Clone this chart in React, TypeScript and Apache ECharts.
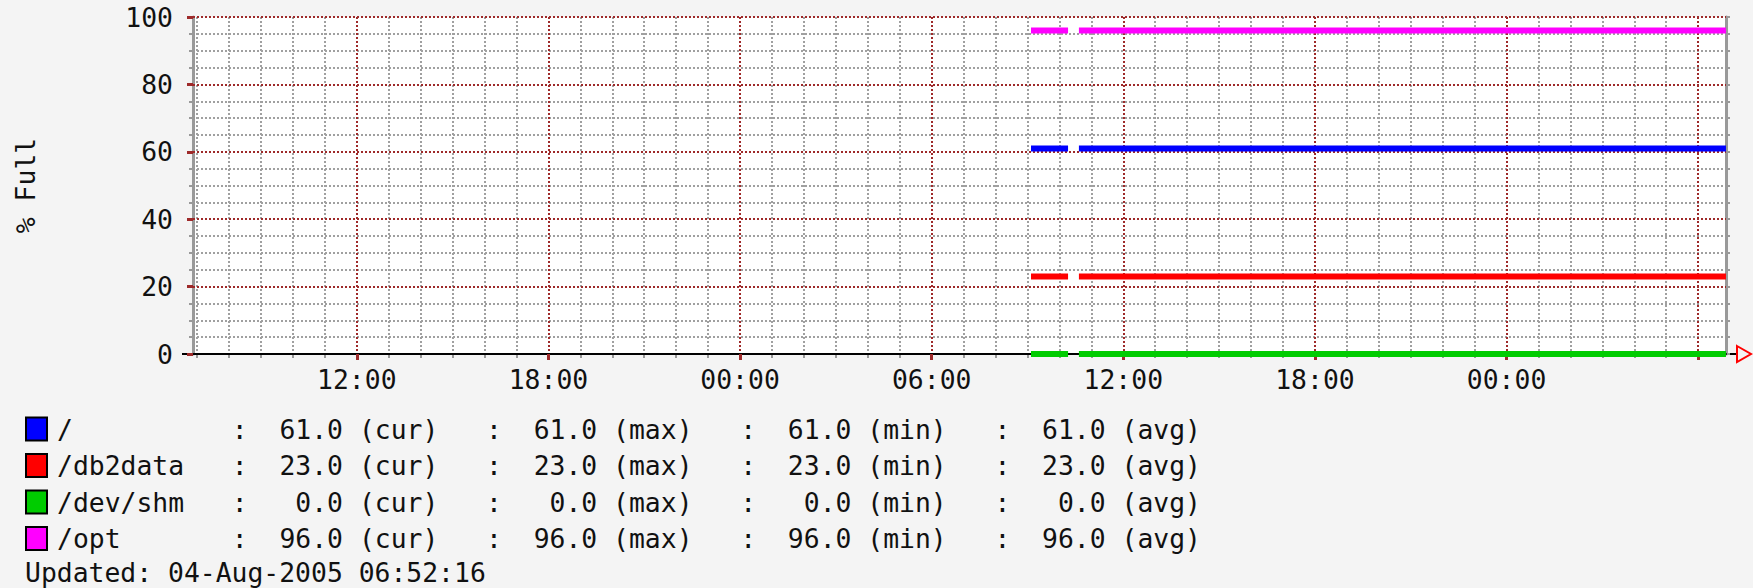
import React, { useEffect, useRef } from 'react';
import * as echarts from 'echarts';

// ---- data ----
const seriesNames = ['/', '/db2data', '/dev/shm', '/opt'];
const seriesColors = ['#0000ff', '#ff0000', '#00cc00', '#ff00ff'];
// hours since 02-Aug-2005 00:00
const sampleHours = [33.11, 34.27, 34.44, 34.61, 54.87];
const rootValues = [61, 61, null, 61, 61];
const db2dataValues = [23, 23, null, 23, 23];
const devShmValues = [0, 0, null, 0, 0];
const optValues = [96, 96, null, 96, 96];
const seriesValues = [rootValues, db2dataValues, devShmValues, optValues];

const curValues = [61.0, 23.0, 0.0, 96.0];
const maxValues = [61.0, 23.0, 0.0, 96.0];
const minValues = [61.0, 23.0, 0.0, 96.0];
const avgValues = [61.0, 23.0, 0.0, 96.0];

const majorHourTicks = [12, 18, 24, 30, 36, 42, 48, 54];
const majorHourLabels = [12, 18, 24, 30, 36, 42, 48];
const minorHourTicks = [
  7, 8, 9, 10, 11, 12, 13, 14, 15, 16, 17, 18, 19, 20, 21, 22, 23, 24,
  25, 26, 27, 28, 29, 30, 31, 32, 33, 34, 35, 36, 37, 38, 39, 40, 41, 42,
  43, 44, 45, 46, 47, 48, 49, 50, 51, 52, 53, 54,
];
const xMin = 6.871;
const xMax = 54.871;
const yAxisName = '% Full';
const updatedText = 'Updated: 04-Aug-2005 06:52:16';

const MONO = '"DejaVu Sans Mono", "Liberation Mono", monospace';
const FS = 26.4;
const RED = '#9e2a2a';
const GRAY = '#a0a0a0';

const fmt = (v: number) => v.toFixed(1).padStart(5, ' ');
const legendRow = (i: number) =>
  seriesNames[i].padEnd(11, ' ') +
  ': ' + fmt(curValues[i]) + ' (cur)   ' +
  ': ' + fmt(maxValues[i]) + ' (max)   ' +
  ': ' + fmt(minValues[i]) + ' (min)   ' +
  ': ' + fmt(avgValues[i]) + ' (avg)';

export default function App() {
  const ref = useRef<HTMLDivElement>(null);
  useEffect(() => {
    if (!ref.current) return;
    const chart = echarts.init(ref.current, undefined, { renderer: 'svg' });

    const rowY = [429, 465.5, 502, 538.5];
    const graphics: any[] = [];
    seriesNames.forEach((_, i) => {
      graphics.push({
        type: 'rect',
        shape: { x: 26, y: rowY[i] - 11.5, width: 21, height: 23 },
        style: { fill: seriesColors[i], stroke: '#000', lineWidth: 2 },
      });
      graphics.push({
        type: 'text',
        x: 57,
        y: rowY[i],
        style: {
          text: legendRow(i),
          font: `${FS}px ${MONO}`,
          fill: '#111',
          verticalAlign: 'middle',
          align: 'left',
        },
      });
    });
    graphics.push({
      type: 'text',
      x: 25,
      y: 572,
      style: {
        text: updatedText,
        font: `${FS}px ${MONO}`,
        fill: '#111',
        verticalAlign: 'middle',
        align: 'left',
      },
    });
    // axis extensions and arrow
    graphics.push({
      type: 'line',
      shape: { x1: 182, y1: 354, x2: 193, y2: 354 },
      style: { stroke: '#000', lineWidth: 2 },
    });
    graphics.push({
      type: 'line',
      shape: { x1: 1726, y1: 354, x2: 1737, y2: 354 },
      style: { stroke: '#000', lineWidth: 2 },
    });
    graphics.push({
      type: 'polygon',
      shape: { points: [[1737, 346], [1751, 354], [1737, 362]] },
      style: { fill: 'none', stroke: '#ff0000', lineWidth: 2 },
    });

    const option: any = {
      animation: false,
      backgroundColor: '#f4f4f4',
      grid: {
        left: 193,
        top: 17,
        width: 1533,
        height: 337,
        show: true,
        backgroundColor: '#ffffff',
        borderWidth: 0,
      },
      xAxis: [
        {
          type: 'value',
          min: xMin,
          max: xMax,
          position: 'bottom',
          z: 0,
          axisLine: { show: false, onZero: false },
          axisTick: {
            show: true,
            customValues: minorHourTicks,
            length: 4,
            lineStyle: { color: '#999', width: 2 },
          },
          axisLabel: { show: false },
          splitLine: {
            show: true,
            lineStyle: { color: GRAY, width: 2, type: [2, 2] },
          },
        },
        {
          type: 'value',
          min: xMin,
          max: xMax,
          position: 'bottom',
          z: 1,
          axisLine: { show: true, onZero: false, lineStyle: { color: '#000', width: 2 } },
          axisTick: {
            show: true,
            customValues: majorHourTicks,
            length: 6,
            lineStyle: { color: RED, width: 3 },
          },
          axisLabel: {
            show: true,
            customValues: majorHourLabels,
            formatter: (h: number) => `${String(Math.round(h) % 24).padStart(2, '0')}:00`,
            margin: 12,
            fontFamily: MONO,
            fontSize: FS,
            color: '#111',
          },
          splitLine: {
            show: true,
            lineStyle: { color: RED, width: 2, type: [2, 2] },
          },
        },
      ],
      yAxis: [
        {
          type: 'value',
          min: 0,
          max: 100,
          interval: 5,
          position: 'left',
          z: 0,
          axisLine: { show: true, onZero: false, lineStyle: { color: '#999', width: 3 } },
          axisTick: { show: true, length: 4, lineStyle: { color: '#999', width: 2 } },
          axisLabel: { show: false },
          splitLine: {
            show: true,
            lineStyle: { color: GRAY, width: 2, type: [2, 2] },
          },
        },
        {
          type: 'value',
          min: 0,
          max: 100,
          interval: 20,
          position: 'left',
          z: 1,
          name: yAxisName,
          nameLocation: 'middle',
          nameRotate: 90,
          nameGap: 155,
          nameTextStyle: { fontFamily: MONO, fontSize: FS, color: '#111' },
          axisLine: { show: false, onZero: false },
          axisTick: { show: true, length: 6, lineStyle: { color: RED, width: 3 } },
          axisLabel: {
            margin: 20,
            fontFamily: MONO,
            fontSize: FS,
            color: '#111',
            padding: [6, 0, 0, 0],
          },
          splitLine: {
            show: true,
            lineStyle: { color: RED, width: 2, type: [2, 2] },
          },
        },
        {
          type: 'value',
          min: 0,
          max: 100,
          interval: 5,
          position: 'right',
          z: 0,
          axisLine: { show: true, onZero: false, lineStyle: { color: '#999', width: 3 } },
          axisTick: { show: true, length: 4, lineStyle: { color: '#999', width: 2 } },
          axisLabel: { show: false },
          splitLine: { show: false },
        },
      ],
      series: seriesNames.map((name, i) => ({
        type: 'line',
        name,
        xAxisIndex: 1,
        yAxisIndex: 1,
        data: sampleHours.map((h, j) => [h, seriesValues[i][j]]),
        symbol: 'none',
        showSymbol: false,
        connectNulls: false,
        lineStyle: { color: seriesColors[i], width: 6, cap: 'butt' },
        itemStyle: { color: seriesColors[i] },
        z: 3,
      })),
      graphic: graphics,
    };
    chart.setOption(option);
    return () => chart.dispose();
  }, []);

  return (
    <div
      ref={ref}
      style={{ position: 'fixed', left: 0, top: 0, width: 1753, height: 588, background: '#f4f4f4' }}
    />
  );
}
